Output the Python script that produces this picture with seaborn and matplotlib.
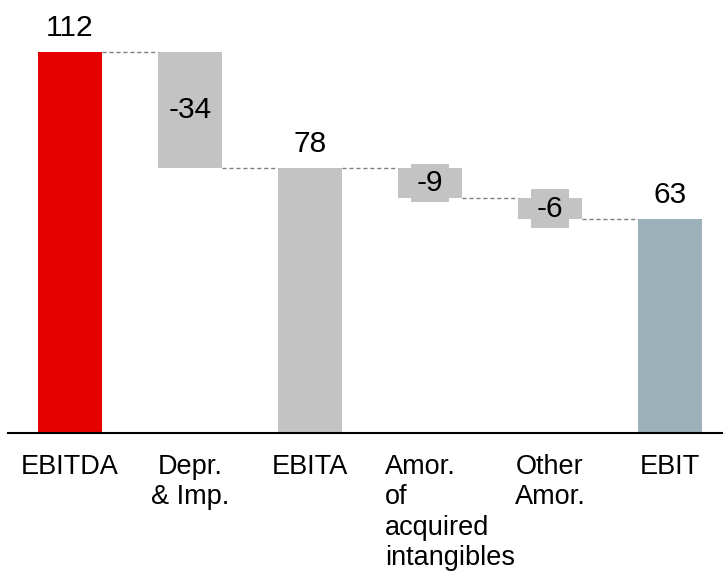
import matplotlib
matplotlib.use("Agg")
import matplotlib.pyplot as plt
import matplotlib.transforms as mtransforms
import seaborn as sns

# chart data
categories = ["EBITDA", "Depr.\n& Imp.", "EBITA", "Amor.\nof\nacquired\nintangibles", "Other\nAmor.", "EBIT"]
values = [112, -34, 78, -9, -6, 63]
is_total = [True, False, True, False, False, True]
bar_colors = ["#E60000", "#C3C3C3", "#C3C3C3", "#C3C3C3", "#C3C3C3", "#9BB0B8"]

sns.set_style("white")
plt.rcParams["font.family"] = ["Liberation Sans", "DejaVu Sans"]
plt.rcParams["text.color"] = "black"
plt.rcParams["xtick.color"] = "black"

# waterfall geometry: heights + bottoms from running total
heights, bottoms, levels = [], [], []
running = 0
for v, tot in zip(values, is_total):
    if tot:
        running = v
        heights.append(v); bottoms.append(0)
    else:
        heights.append(abs(v)); bottoms.append(running + v if v < 0 else running)
        running += v
    levels.append(running)

W = 64 / 120
fig = plt.figure(figsize=(7.23, 5.73), dpi=100)
ax = fig.add_axes([8 / 723, (573 - 433) / 573, 715 / 723, 433 / 573])
sns.barplot(x=list(range(len(categories))), y=heights, bottom=bottoms, color="#C3C3C3",
            width=W, native_scale=True, ax=ax, saturation=1, linewidth=0)
for p, c in zip(ax.patches, bar_colors):
    p.set_facecolor(c)

# dashed connectors
for i in range(len(values) - 1):
    ax.plot([i + W / 2, i + 1 - W / 2], [levels[i], levels[i]], color="#808080", lw=1, ls=(0, (3, 2)))

# value labels
for i, (v, tot) in enumerate(zip(values, is_total)):
    if tot:
        ax.annotate(f"{v}", (i, v), xytext=(0, 7), textcoords="offset points",
                    ha="center", va="bottom", fontsize=21.5, color="black")
    else:
        ax.text(i, bottoms[i] + heights[i] / 2, f"{v}", ha="center", va="center", fontsize=21.5,
                color="black", bbox=dict(boxstyle="square,pad=0.18", fc="#C3C3C3", ec="none"))

ax.set_xlim(-62 / 120, 653 / 120)
ax.set_ylim(0, 433 / 3.4)
ax.set_xticks(range(len(categories)))
ax.set_xticklabels(categories, fontsize=19.5, linespacing=1.22, color="black")
ax.tick_params(axis="x", length=0, pad=15)
ax.set_yticks([])
ax.set_ylabel(""); ax.set_xlabel("")
sns.despine(ax=ax, left=True)
ax.spines["bottom"].set_color("black"); ax.spines["bottom"].set_linewidth(1.5)

lbl = ax.get_xticklabels()[3]
lbl.set_multialignment("left")
lbl.set_transform(lbl.get_transform() + mtransforms.ScaledTranslation(0.2, 0, fig.dpi_scale_trans))

fig.savefig("out.png", dpi=100)
